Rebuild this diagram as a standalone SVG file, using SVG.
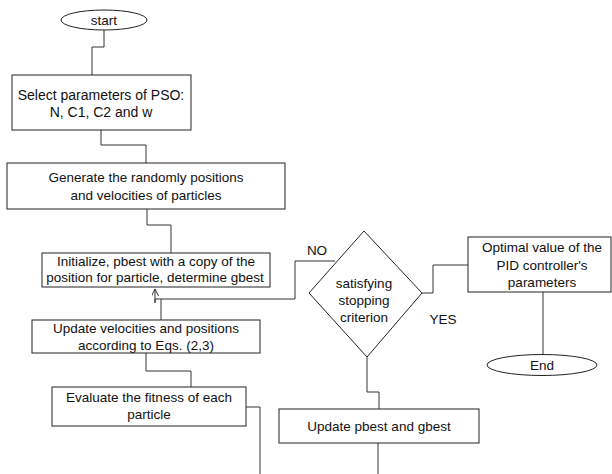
<svg xmlns="http://www.w3.org/2000/svg" width="612" height="474" viewBox="0 0 612 474">
<defs>
<marker id="arr" viewBox="0 0 10 10" refX="10" refY="5" markerWidth="7" markerHeight="7" orient="auto" markerUnits="userSpaceOnUse">
<path d="M0,0 L10,5 L0,10" fill="none" stroke="#222" stroke-width="1.3"/>
</marker>
<style>
.b{fill:#fff;stroke:#222;stroke-width:1}
.c{fill:none;stroke:#333;stroke-width:1}
text{font-family:"Liberation Sans",Arial,sans-serif;font-size:13.5px;fill:#111;text-anchor:middle}
</style>
</defs>
<rect width="612" height="474" fill="#fff"/>
<g id="connectors">
<path class="c" d="M104,30 V47 H92 V75"/>
<path class="c" d="M101,130 V145 H146 V163"/>
<path class="c" d="M147,209 V225 H171 V253"/>
<path class="c" d="M335,261 H295 V299 H155 V303"/>
<path class="c" d="M161,320 V299"/>
<path class="c" d="M155,303 V289" marker-end="url(#arr)"/>
<path class="c" d="M146,353 V371 H191 V387"/>
<path class="c" d="M246,407 H260 V474"/>
<path class="c" d="M422,293 H433 V265 H468"/>
<path class="c" d="M543,292 V354"/>
<path class="c" d="M367,357 V392 H379 V409"/>
<path class="c" d="M378,443 V474"/>
</g>
<g id="start"><ellipse class="b" cx="104" cy="20" rx="43" ry="10"/><text x="104" y="25">start</text></g>
<g id="select"><rect class="b" x="12" y="75" width="179" height="55"/><text x="101" y="100" style="font-size:14px">Select parameters of PSO:</text><text x="101" y="117" style="font-size:14px">N, C1, C2 and w</text></g>
<g id="generate"><rect class="b" x="7" y="163" width="278" height="46"/><text x="146" y="182">Generate the randomly positions</text><text x="146" y="200">and velocities of particles</text></g>
<g id="init"><rect class="b" x="42" y="253" width="228" height="34"/><text x="156" y="266">Initialize, pbest with a copy of the</text><text x="155" y="282">position for particle, determine gbest</text></g>
<g id="update"><rect class="b" x="32" y="320" width="228" height="33"/><text x="146" y="333">Update velocities and positions</text><text x="146" y="350">according to Eqs. (2,3)</text></g>
<g id="evaluate"><rect class="b" x="52" y="387" width="194" height="39"/><text x="149" y="402">Evaluate the fitness of each</text><text x="149" y="419">particle</text></g>
<g id="decision"><polygon class="b" points="364,231 422,293 367,357 309,293"/><text x="364" y="288">satisfying</text><text x="364" y="305">stopping</text><text x="364" y="322">criterion</text></g>
<g id="labels"><text x="317" y="255">NO</text><text x="443" y="324">YES</text></g>
<g id="optimal"><rect class="b" x="468" y="237" width="143" height="55"/><text x="542" y="252">Optimal value of the</text><text x="542" y="270">PID controller's</text><text x="542" y="287">parameters</text></g>
<g id="end"><ellipse class="b" cx="542" cy="365" rx="55" ry="10.5"/><text x="542" y="370">End</text></g>
<g id="updatebest"><rect class="b" x="279" y="409" width="200" height="34"/><text x="379" y="431">Update pbest and gbest</text></g>
</svg>
